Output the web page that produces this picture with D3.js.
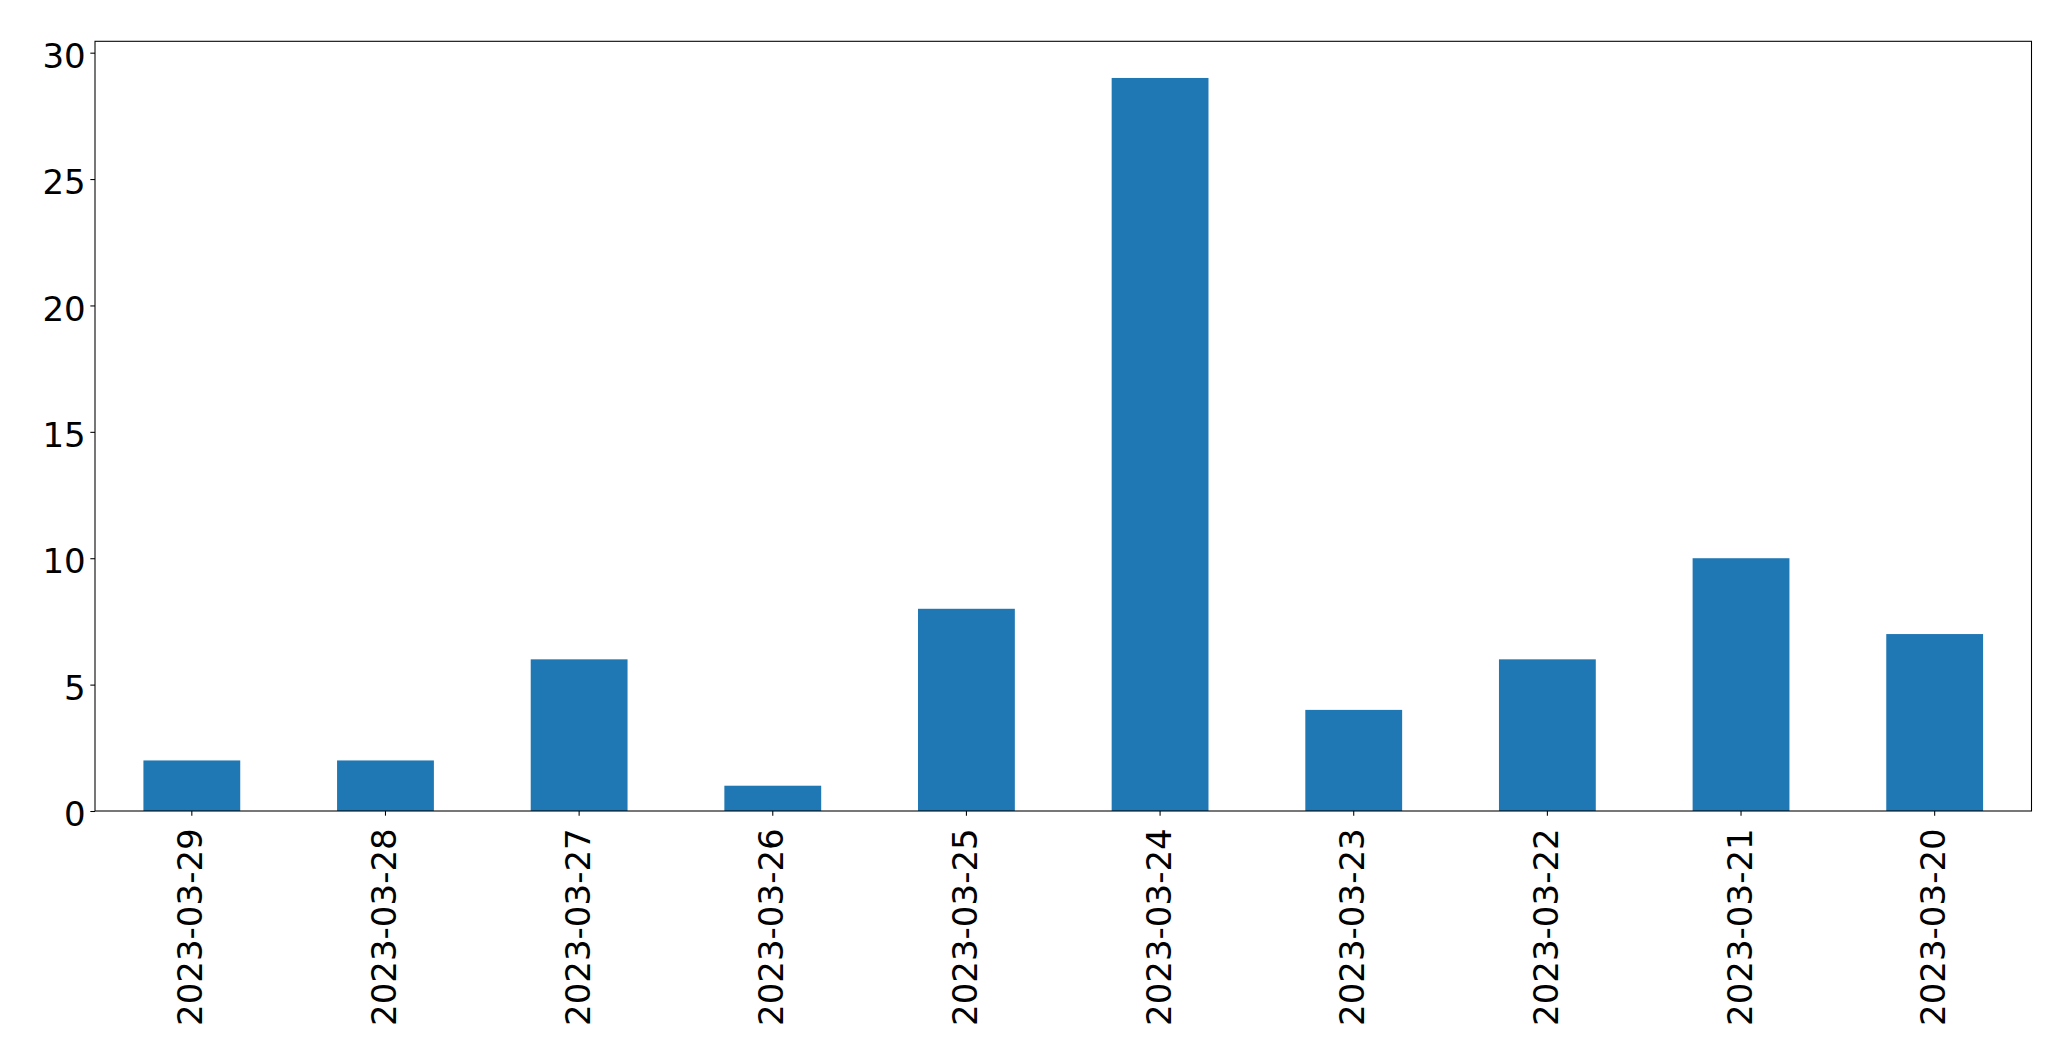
<!DOCTYPE html>
<html>
<head>
<meta charset="utf-8">
<script src="https://cdn.jsdelivr.net/npm/d3@7"></script>
<style>
  html, body { margin: 0; padding: 0; background: #fff; }
  svg { display: block; }
</style>
</head>
<body>
<svg id="chart" width="2071" height="1063"></svg>
<script>
const categories = ["2023-03-29","2023-03-28","2023-03-27","2023-03-26","2023-03-25","2023-03-24","2023-03-23","2023-03-22","2023-03-21","2023-03-20"];
const values = [2, 2, 6, 1, 8, 29, 4, 6, 10, 7];
const yTicks = [0, 5, 10, 15, 20, 25, 30];

const W = 2071, H = 1063;
const margin = { left: 95, right: 2031.5, top: 41.3, bottom: 811 };
const svg = d3.select("#chart");
const fontFamily = "'DejaVu Sans', sans-serif";
const fs = 34;
const tickLen = 4.67, pad = 4.67;

const x = d3.scaleBand().domain(categories).range([margin.left, margin.right]).paddingInner(0.5).paddingOuter(0.25);
const y = d3.scaleLinear().domain([0, d3.max(values) * 1.05]).range([margin.bottom, margin.top]);

// bars
svg.append("g").selectAll("rect").data(values).join("rect")
  .attr("x", (d, i) => x(categories[i]))
  .attr("width", x.bandwidth())
  .attr("y", d => y(d))
  .attr("height", d => y(0) - y(d))
  .attr("fill", "#1f77b4");

// y axis
const yAxis = svg.append("g").attr("transform", `translate(${margin.left},0)`)
  .call(d3.axisLeft(y).tickValues(yTicks).tickSize(tickLen).tickPadding(pad).tickFormat(d3.format("d")));
yAxis.select(".domain").remove();
yAxis.selectAll(".tick line").attr("stroke", "#000").attr("stroke-width", 1.07);
yAxis.selectAll(".tick text")
  .attr("font-family", fontFamily).attr("font-size", fs).attr("fill", "#000")
  .attr("dy", "0.43em");

// x axis
const xAxis = svg.append("g").attr("transform", `translate(0,${margin.bottom})`)
  .call(d3.axisBottom(x).tickSize(tickLen).tickPadding(pad));
xAxis.select(".domain").remove();
xAxis.selectAll(".tick line").attr("stroke", "#000").attr("stroke-width", 1.07);
xAxis.selectAll(".tick text")
  .attr("font-family", fontFamily).attr("font-size", fs).attr("fill", "#000")
  .attr("text-anchor", "end")
  .attr("x", 0).attr("y", 0)
  .attr("dy", "0.31em")
  .attr("transform", `translate(0,${tickLen + pad + 8}) rotate(-90)`);

// frame
svg.append("rect")
  .attr("x", margin.left).attr("y", margin.top)
  .attr("width", margin.right - margin.left).attr("height", margin.bottom - margin.top)
  .attr("fill", "none").attr("stroke", "#000").attr("stroke-width", 1.07);
</script>
</body>
</html>
